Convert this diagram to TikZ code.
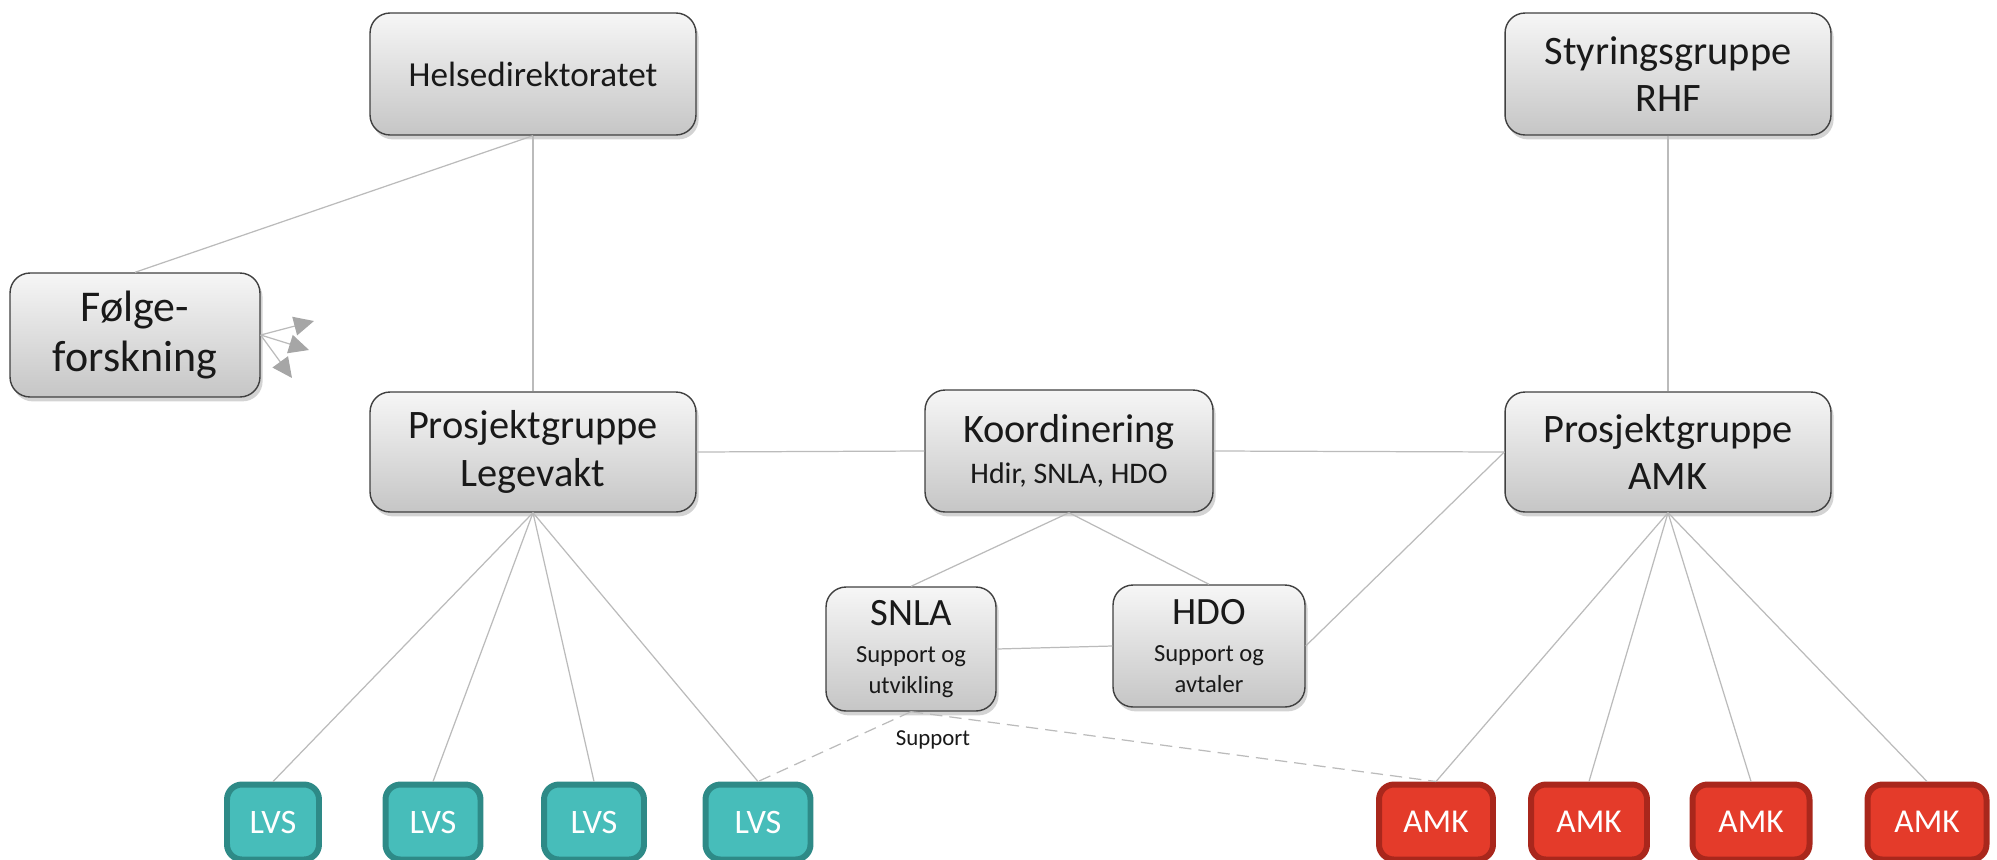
\documentclass[tikz,border=0pt]{standalone}
\usepackage{fontspec}
\setmainfont{Carlito}
\usetikzlibrary{shadows,arrows.meta}
\definecolor{teallight}{HTML}{47BDBA}
\definecolor{tealdark}{HTML}{2E8A87}
\definecolor{amklight}{HTML}{E43B2A}
\definecolor{amkdark}{HTML}{A9271C}
\definecolor{lineg}{HTML}{BBBBBB}
\definecolor{arrg}{HTML}{A6A6A6}
\begin{document}
\begin{tikzpicture}[x=0.02cm,y=-0.02cm,
  gbox/.style={draw=black!75, line width=0.8pt, rounded corners=0.4cm,
    top color=gray!7, bottom color=gray!45, align=center, inner sep=0pt,
    text=black!90,
    drop shadow={opacity=0.35,shadow xshift=1.5pt,shadow yshift=-2.5pt}},
  big/.style={font=\fontsize{23}{27}\selectfont},
  small/.style={font=\fontsize{14}{17}\selectfont},
  conn/.style={draw=lineg, line width=0.7pt},
  lvs/.style={draw=tealdark, fill=teallight, line width=3.4pt, rounded corners=0.3cm,
    text=white, font=\fontsize{19.5}{22}\selectfont, inner sep=0pt,
    minimum height=1.5cm},
  amk/.style={draw=amkdark, fill=amklight, line width=3.4pt, rounded corners=0.3cm,
    text=white, font=\fontsize{19}{22}\selectfont, inner sep=0pt,
    minimum height=1.5cm},
  farr/.style={draw=lineg, line width=0.7pt, -{Triangle[length=0.4cm,width=0.38cm,fill=arrg,color=arrg]}}
]
\useasboundingbox (0,0) rectangle (1997,859);

% gray boxes
\node[gbox, minimum width=6.52cm, minimum height=2.44cm, font=\fontsize{20}{24}\selectfont] (hd) at (533,74) {Helsedirektoratet};
\node[gbox, big, minimum width=6.52cm, minimum height=2.44cm] (sr) at (1668,74) {Styringsgruppe\\RHF};
\node[gbox, minimum width=5.0cm, minimum height=2.48cm, font=\fontsize{25}{29}\selectfont] (fo) at (135,335) {Følge-\\forskning};
\node[gbox, big, minimum width=6.52cm, minimum height=2.4cm] (pl) at (533,452) {Prosjektgruppe\\Legevakt};
\node[gbox, minimum width=5.76cm, minimum height=2.44cm, font=\fontsize{17}{20}\selectfont] (ko) at (1069,451)
  {{\fontsize{23}{27}\selectfont Koordinering}\\[3pt]Hdir, SNLA, HDO};
\node[gbox, big, minimum width=6.52cm, minimum height=2.4cm] (pa) at (1668,452) {Prosjektgruppe\\AMK};
\node[gbox, small, minimum width=3.4cm, minimum height=2.48cm] (snla) at (911,649)
  {{\fontsize{22}{26}\selectfont SNLA}\\[4pt]Support og\\[1pt]utvikling};
\node[gbox, small, minimum width=3.84cm, minimum height=2.44cm] (hdo) at (1209,646)
  {{\fontsize{22}{26}\selectfont HDO}\\[4pt]Support og\\[1pt]avtaler};

% LVS boxes
\node[lvs, minimum width=1.84cm] (lvs1) at (273,822) {LVS};
\node[lvs, minimum width=1.9cm] (lvs2) at (433,822) {LVS};
\node[lvs, minimum width=2.0cm] (lvs3) at (594,822) {LVS};
\node[lvs, minimum width=2.1cm] (lvs4) at (758,822) {LVS};

% AMK boxes
\node[amk, minimum width=2.28cm] (amk1) at (1436,822) {AMK};
\node[amk, minimum width=2.32cm] (amk2) at (1589,822) {AMK};
\node[amk, minimum width=2.34cm] (amk3) at (1751,822) {AMK};
\node[amk, minimum width=2.38cm] (amk4) at (1927,822) {AMK};

% connectors
\draw[conn] (hd.south) -- (pl.north);
\draw[conn] (hd.south) -- (fo.north);
\draw[conn] (sr.south) -- (pa.north);
\draw[conn] (pl.east) -- (ko.west);
\draw[conn] (ko.east) -- (pa.west);
\draw[conn] (ko.south) -- (snla.north);
\draw[conn] (ko.south) -- (hdo.north);
\draw[conn] (snla.east) -- (hdo.west);
\draw[conn] (hdo.east) -- (pa.west);
\foreach \i in {1,2,3,4} {
  \draw[conn] (pl.south) -- (lvs\i.north);
  \draw[conn] (pa.south) -- (amk\i.north);
}
\draw[conn, dash pattern=on 7pt off 4pt] (snla.south) -- (lvs4.north);
\draw[conn, dash pattern=on 7pt off 4pt] (snla.south) -- (amk1.north);
\node[font=\fontsize{13}{16}\selectfont, text=black!90] (sup) at (933,740) {Support};

% arrows from Følgeforskning
\coordinate (fa1) at (314,321);
\coordinate (fa2) at (309,350);
\coordinate (fa3) at (292,378);
\draw[farr] (fo.east) -- (fa1);
\draw[farr] (fo.east) -- (fa2);
\draw[farr] (fo.east) -- (fa3);
\end{tikzpicture}
\end{document}
